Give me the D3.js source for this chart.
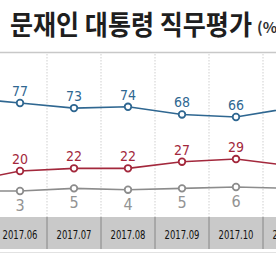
<!DOCTYPE html>
<html>
<head>
<meta charset="utf-8">
<script src="https://cdn.jsdelivr.net/npm/d3@7"></script>
<style>
  body { margin: 0; background: #fff; }
  svg { display: block; }
</style>
</head>
<body>
<script>
// months, the first and last sit partly outside the crop
const months = ["2017.05", "2017.06", "2017.07", "2017.08", "2017.09", "2017.10", "2017.11"]
const approve = [81, 77, 73, 74, 68, 66, 73]
const disapprove = [12, 20, 22, 22, 27, 29, 24]
const noAnswer = [3, 3, 5, 4, 5, 6, 5]

const W = 276, H = 260

let svg = d3.select("body").append("svg")
    .attr("width", W)
    .attr("height", H)

// column centres are 54px apart, 2017.06 at x=20
let x = d3.scalePoint()
    .domain(months)
    .range([-34, 290])

let yA = d3.scaleLinear().domain([60, 80]).range([124.6, 99.2])
let yD = d3.scaleLinear().domain([10, 30]).range([184.3, 157.7])
let yN = d3.scaleLinear().domain([0, 10]).range([195, 181.7])

let step = x.step()

// title
svg.append("text")
    .attr("x", 10)
    .attr("y", 35)
    .attr("font-family", "Noto Sans CJK KR")
    .attr("font-weight", "bold")
    .attr("font-size", 27)
    .attr("fill", "#1e1e1e")
    .attr("textLength", 242)
    .attr("lengthAdjust", "spacingAndGlyphs")
    .text("문재인 대통령 직무평가")

svg.append("text")
    .attr("x", 257)
    .attr("y", 33)
    .attr("font-family", "Noto Sans CJK KR")
    .attr("font-weight", "bold")
    .attr("font-size", 15)
    .attr("fill", "#333")
    .text("(%)")

// line under title
svg.append("line")
    .attr("x1", 0).attr("x2", W)
    .attr("y1", 52.5).attr("y2", 52.5)
    .attr("stroke", "#c8c8c8")
    .attr("stroke-width", 1.5)

// dotted column dividers
svg.selectAll(".div")
    .data(months.slice(0, -1))
    .enter()
    .append("line")
    .attr("x1", d => x(d) + step / 2)
    .attr("x2", d => x(d) + step / 2)
    .attr("y1", 54)
    .attr("y2", 217)
    .attr("stroke", "#cfcfcf")
    .attr("stroke-dasharray", "1.5,1.5")

// date band
svg.append("rect")
    .attr("x", 0).attr("y", 217)
    .attr("width", W).attr("height", 32)
    .attr("fill", "#c9c9c9")

svg.selectAll(".bdiv")
    .data(months.slice(0, -1))
    .enter()
    .append("line")
    .attr("x1", d => x(d) + step / 2)
    .attr("x2", d => x(d) + step / 2)
    .attr("y1", 217)
    .attr("y2", 249)
    .attr("stroke", "#868686")
    .attr("stroke-width", 1)

svg.append("line")
    .attr("x1", 0).attr("x2", W)
    .attr("y1", 252.5).attr("y2", 252.5)
    .attr("stroke", "#e2e2e2")

svg.selectAll(".month")
    .data(months)
    .enter()
    .append("text")
    .attr("x", d => x(d))
    .attr("y", 238.5)
    .attr("text-anchor", "middle")
    .attr("font-family", "DejaVu Sans Condensed")
    .attr("font-size", 12)
    .attr("fill", "#111")
    .attr("textLength", 35)
    .attr("lengthAdjust", "spacingAndGlyphs")
    .text(d => d)

// series
let series = [
    { values: approve, y: yA, color: "#2f6791", text: "#2f6791", dy: -7, size: 14 },
    { values: disapprove, y: yD, color: "#a3283c", text: "#a3283c", dy: -7, size: 14 },
    { values: noAnswer, y: yN, color: "#8c8c8c", text: "#939393", dy: 20, size: 16 }
]

for (let s of series) {
    let pts = months.map((m, i) => [x(m), s.y(s.values[i])])

    svg.append("path")
        .attr("d", d3.line()(pts))
        .attr("fill", "none")
        .attr("stroke", s.color)
        .attr("stroke-width", 1.6)

    svg.selectAll(null)
        .data(pts)
        .enter()
        .append("circle")
        .attr("cx", d => d[0])
        .attr("cy", d => d[1])
        .attr("r", 3.3)
        .attr("fill", "#fff")
        .attr("stroke", s.color)
        .attr("stroke-width", 1.8)

    svg.selectAll(null)
        .data(pts)
        .enter()
        .append("text")
        .attr("x", d => d[0])
        .attr("y", d => d[1] + s.dy)
        .attr("text-anchor", "middle")
        .attr("font-family", "DejaVu Sans Condensed")
        .attr("font-size", s.size)
        .attr("fill", s.text)
        .text((d, i) => s.values[i])
}
</script>
</body>
</html>
